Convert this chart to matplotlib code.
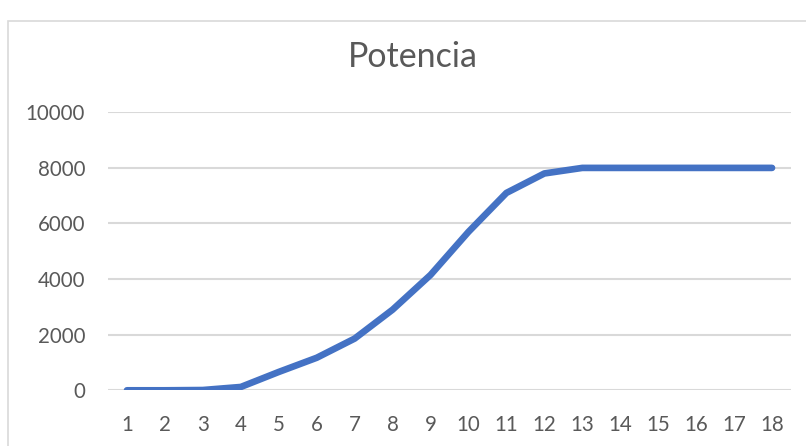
import matplotlib
matplotlib.use("Agg")
import matplotlib.pyplot as plt
from matplotlib.patches import Rectangle

# Power curve data
categories = list(range(1, 19))
potencia = [0, 0, 10, 120, 660, 1170, 1860, 2900, 4150, 5700, 7100, 7800,
            8000, 8000, 8000, 8000, 8000, 8000]
y_ticks = [0, 2000, 4000, 6000, 8000, 10000]
title = "Potencia"

W, H = 806, 446
fig = plt.figure(figsize=(W / 100, H / 100), dpi=100)
fig.patch.set_facecolor("white")

# Chart-area border (continues beyond the right and bottom edges)
fig.patches.append(Rectangle((7.7 / W, -0.05), 1.1, 1 - 20.5 / H + 0.05,
                             transform=fig.transFigure, fill=False,
                             edgecolor="#d9d9d9", linewidth=1.2))

ax = fig.add_axes([108 / W, 1 - 390.3 / H, (791 - 108) / W, (390.3 - 112.3) / H])
ax.set_facecolor("none")

x = list(range(len(categories)))
ax.plot(x, potencia, color="#4472C4", linewidth=4.8,
        solid_capstyle="round", solid_joinstyle="round", zorder=3)

ax.set_xlim(-0.5, len(categories) - 0.5)
ax.set_ylim(0, 10000)
ax.set_yticks(y_ticks)
ax.set_yticklabels([str(v) for v in y_ticks])
ax.set_xticks(x)
ax.set_xticklabels([str(c) for c in categories])

for s in ax.spines.values():
    s.set_visible(False)
ax.grid(axis="y", color="#d9d9d9", linewidth=1.5)
ax.set_axisbelow(True)
ax.tick_params(axis="both", length=0, colors="#595959", labelsize=14.8)
ax.tick_params(axis="y", pad=16.5)
ax.tick_params(axis="x", pad=18)
for lbl in ax.get_xticklabels() + ax.get_yticklabels():
    lbl.set_fontfamily("Lato")

fig.text(413 / W, 1 - 57 / H, title, ha="center", va="center",
         fontsize=24.5, color="#595959", fontfamily="Lato")

fig.savefig("out.png", dpi=100, facecolor="white")
